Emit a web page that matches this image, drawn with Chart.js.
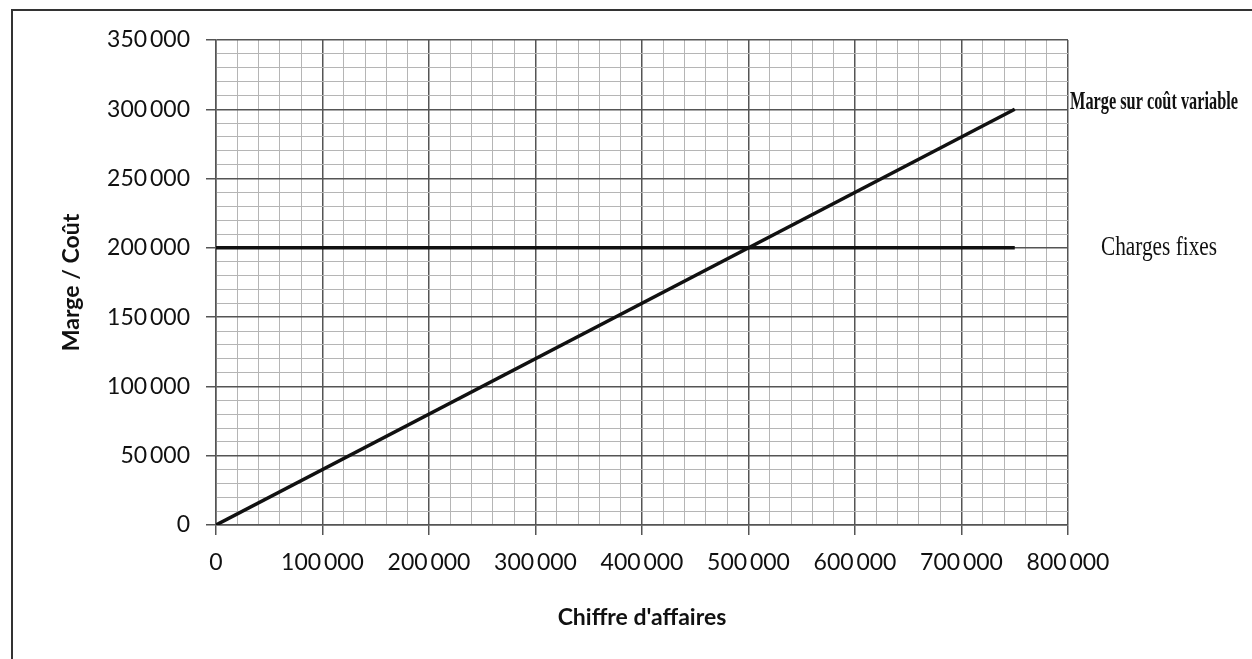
<!DOCTYPE html>
<html>
<head>
<meta charset="utf-8">
<script src="https://cdn.jsdelivr.net/npm/chart.js@4"></script>
<style>
  html, body { margin: 0; padding: 0; background: #fff; }
  #wrap { width: 1252px; height: 659px; }
</style>
</head>
<body>
<div id="wrap"><canvas id="seuilChart" width="1252" height="659"></canvas></div>
<script>
// Data
const chiffreAffaires = [0, 750000];
const margeSurCV = [0, 300000];
const chargesFixes = [200000, 200000];
const seriesNames = ['Marge sur coût variable', 'Charges fixes'];

const xMax = 800000, xStep = 20000, xMajor = 100000;
const yMax = 350000, yStep = 10000, yMajor = 50000;

// "350 000" with a thin gap, like the original
function fmt(v) {
    return String(v).replace(/\B(?=(\d{3})+(?!\d))/g, '\u2009');
}

function toPoints(xs, ys) {
    return xs.map((x, i) => ({ x: x, y: ys[i] }));
}

// labels at the end of each line, plus the scan frame
const sideLabels = {
    id: 'sideLabels',
    beforeDraw(chart) {
        let c = chart.ctx;
        c.save();
        c.fillStyle = '#fff';
        c.fillRect(0, 0, chart.width, chart.height);
        c.strokeStyle = '#333';
        c.lineWidth = 2;
        c.beginPath();
        c.moveTo(12, 660);
        c.lineTo(12, 10);
        c.lineTo(1252, 10);
        c.stroke();
        c.restore();
    },
    afterDraw(chart) {
        let c = chart.ctx;
        let yScale = chart.scales.y;
        c.save();
        c.fillStyle = '#111';
        c.textBaseline = 'middle';
        c.textAlign = 'left';
        c.font = 'bold 26px "Liberation Serif"';
        c.fillText(seriesNames[0], 1070, yScale.getPixelForValue(margeSurCV[1]) - 7, 168);
        c.font = '27px "Liberation Serif"';
        c.fillText(seriesNames[1], 1101, yScale.getPixelForValue(chargesFixes[1]), 116);
        c.restore();
    }
};

let ctx = document.getElementById('seuilChart').getContext('2d');
let chart = new Chart(ctx, {
    type: 'scatter',
    data: {
        datasets: [{
            label: seriesNames[0],
            data: toPoints(chiffreAffaires, margeSurCV),
            showLine: true,
            borderColor: '#111',
            borderWidth: 3.5,
            pointRadius: 0
        }, {
            label: seriesNames[1],
            data: toPoints(chiffreAffaires, chargesFixes),
            showLine: true,
            borderColor: '#111',
            borderWidth: 3.5,
            pointRadius: 0
        }]
    },
    options: {
        responsive: false,
        animation: false,
        devicePixelRatio: 1,
        layout: { padding: { left: 46, right: 184, top: 40, bottom: 18 } },
        plugins: { legend: { display: false }, tooltip: { enabled: false } },
        scales: {
            x: {
                type: 'linear',
                min: 0,
                max: xMax,
                afterFit: s => { s.height = 116; },
                ticks: {
                    stepSize: xStep,
                    autoSkip: false,
                    maxRotation: 0,
                    padding: 14,
                    color: '#111',
                    font: { family: 'Lato', size: 23 },
                    callback: v => (v % xMajor === 0 ? fmt(v) : '')
                },
                grid: {
                    color: c => (c.tick && c.tick.value % xMajor === 0 ? '#555' : '#b5b5b5'),
                    lineWidth: c => (c.tick && c.tick.value % xMajor === 0 ? 1.5 : 1),
                    tickColor: c => (c.tick && c.tick.value % xMajor === 0 ? '#555' : 'rgba(0,0,0,0)'),
                    tickLength: 10
                },
                border: { color: '#555', width: 1.5 },
                title: {
                    display: true,
                    text: "Chiffre d'affaires",
                    color: '#111',
                    font: { family: 'Lato', size: 23, weight: 'bold' },
                    padding: { top: 0, bottom: 10 }
                }
            },
            y: {
                min: 0,
                max: yMax,
                afterFit: s => { s.width = 170; },
                ticks: {
                    stepSize: yStep,
                    autoSkip: false,
                    padding: 16,
                    color: '#111',
                    font: { family: 'Lato', size: 23 },
                    callback: v => (v % yMajor === 0 ? fmt(v) : '')
                },
                grid: {
                    color: c => (c.tick && c.tick.value % yMajor === 0 ? '#555' : '#b5b5b5'),
                    lineWidth: c => (c.tick && c.tick.value % yMajor === 0 ? 1.5 : 1),
                    tickColor: c => (c.tick && c.tick.value % yMajor === 0 ? '#555' : 'rgba(0,0,0,0)'),
                    tickLength: 10
                },
                border: { color: '#555', width: 1.5 },
                title: {
                    display: true,
                    text: 'Marge / Coût',
                    color: '#111',
                    font: { family: 'Lato', size: 23, weight: 'bold' },
                    padding: { top: 12, bottom: 0 }
                }
            }
        }
    },
    plugins: [sideLabels]
});
</script>
</body>
</html>
